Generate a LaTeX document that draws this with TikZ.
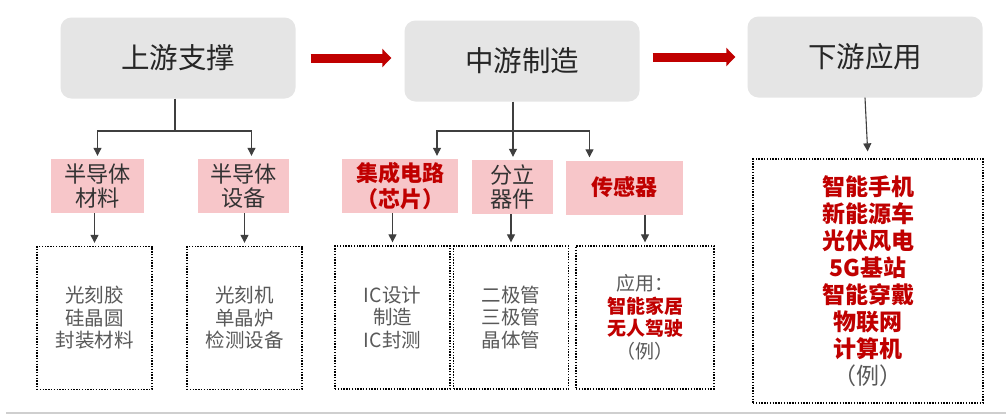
\documentclass[tikz,border=0pt]{standalone}
\usepackage{fontspec}
\setmainfont{Noto Sans CJK SC}
\usetikzlibrary{arrows.meta, positioning}
\definecolor{stageGray}{HTML}{E5E5E5}
\definecolor{catPink}{HTML}{F7C6C9}
\definecolor{mainRed}{HTML}{C00000}
\definecolor{textGray}{HTML}{595959}
\definecolor{lineGray}{HTML}{3F3F3F}
\definecolor{ruleGray}{HTML}{CFCFCF}

\tikzset{
  stage/.style={fill=stageGray, rounded corners=11pt, minimum width=235pt, minimum height=81pt, inner sep=0pt, text=black!85, font=\fontsize{28.5}{31}\selectfont},
  cat/.style={fill=catPink, minimum height=54pt, inner sep=0pt, align=center, text=black!80, font=\fontsize{22.2}{24}\selectfont},
  hot/.style={text=mainRed, font=\bfseries\fontsize{22}{26}\selectfont},
  detail/.style={draw=black, line width=1.3pt, dash pattern=on 1.4pt off 1.4pt, minimum width=115pt, minimum height=143pt, inner sep=0pt, align=center, text=textGray, font=\fontsize{19.5}{22.5}\selectfont},
  link/.style={-{Triangle[length=8pt,width=8pt]}, lineGray, line width=1.1pt, shorten >=3pt},
  flow/.style={-{Triangle[length=9pt,width=18pt]}, mainRed, line width=9pt},
}

\begin{document}
\begin{tikzpicture}[x=1pt, y=-1pt]
    \fill[white] (0,0) rectangle (1006,416);
    \useasboundingbox (0,0) rectangle (1006,416);

    % chain stages
    \node[stage] (up) at (178,58) {上游支撑};
    \node[stage] (mid) at (522,61) {中游制造};
    \node[stage] (down) at (865,57) {下游应用};

    \draw[flow, shorten <=15pt, shorten >=13pt] (up.east) -- (up.east -| mid.west);
    \draw[flow, shorten <=13pt, shorten >=12pt] (mid.east |- down.west) -- (down.west);

    % categories
    \node[cat, minimum width=93pt] (mat) at (97.5,186) {半导体\\材料};
    \node[cat, minimum width=91pt] (equ) at (243.5,186) {半导体\\设备};
    \node[cat, hot, minimum width=116pt] (ic) at (400,186) {集成电路\\（芯片）};
    \node[cat, minimum width=81pt] (dis) at (512.5,187) {分立\\器件};
    \node[cat, hot, minimum width=117pt] (sens) at (624.5,187.5) {传感器};

    % details
    \node[detail] (matd) at (94.5,318) {光刻胶\\硅晶圆\\封装材料};
    \node[detail] (equd) at (244.5,318) {光刻机\\单晶炉\\检测设备};
    \node[detail] (icd) at (392.5,317.5) {IC设计\\制造\\IC封测};
    \node[detail] (disd) at (511,317.5) {二极管\\三极管\\晶体管};
    \node[detail, minimum width=138pt, font=\fontsize{19}{22.5}\selectfont] (sensd) at (645,317.5)
        {应用：\\\textcolor{mainRed}{\textbf{智能家居}}\\\textcolor{mainRed}{\textbf{无人驾驶}}\\（例）};
    \node[detail, minimum width=230pt, minimum height=244pt, font=\fontsize{23}{27}\selectfont] (downd) at (868,281)
        {\textcolor{mainRed}{\textbf{智能手机}}\\\textcolor{mainRed}{\textbf{新能源车}}\\\textcolor{mainRed}{\textbf{光伏风电}}\\\textcolor{mainRed}{\textbf{5G基站}}\\\textcolor{mainRed}{\textbf{智能穿戴}}\\\textcolor{mainRed}{\textbf{物联网}}\\\textcolor{mainRed}{\textbf{计算机}}\\（例）};

    % branches
    \coordinate (upj) at (175,131);
    \coordinate (midj) at (513,131);
    \draw[lineGray, line width=1.1pt] (up.south -| upj) -- (upj);
    \draw[link] (upj) -| (mat.north);
    \draw[link] (upj) -| ([xshift=8pt]equ.north);
    \draw[link] (mid.south -| midj) -- (dis.north -| midj);
    \draw[link] (midj) -| ([xshift=37pt]ic.north);
    \draw[link] (midj) -| ([xshift=-35pt]sens.north);
    \draw[link, shorten >=7pt] (down.south) -- (downd.north);

    \draw[link] (mat.south -| matd.north) -- (matd.north);
    \draw[link] (equ.south -| equd.north) -- (equd.north);
    \draw[link] (ic.south -| icd.north) -- (icd.north);
    \draw[link] (dis.south -| disd.north) -- (disd.north);
    \draw[link] (sens.south -| sensd.north) -- (sensd.north);

    \draw[ruleGray, line width=2pt] (6,413) -- (1006,413);
\end{tikzpicture}
\end{document}
